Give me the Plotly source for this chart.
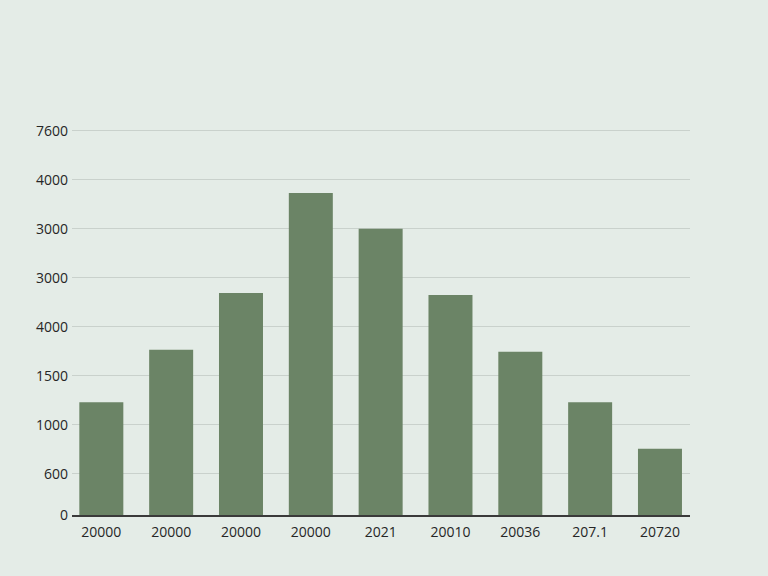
import plotly.graph_objects as go

# Category labels as shown (duplicates kept, so a numeric axis with ticktext is used)
x_labels = ["20000", "20000", "20000", "20000", "2021", "20010", "20036", "207.1", "20720"]
values = [2300, 3370, 4530, 6570, 5840, 4490, 3330, 2300, 1350]

# Y tick labels as printed in the picture (gridlines evenly spaced)
y_tick_text = ["0", "600", "1000", "1500", "4000", "3000", "3000", "4000", "7600"]
y_tick_vals = [0, 840, 1840, 2840, 3840, 4840, 5840, 6840, 7840]

x_idx = list(range(len(x_labels)))

fig = go.Figure(
    go.Bar(
        x=x_idx,
        y=values,
        width=0.63,
        marker=dict(color="#6b8466", line=dict(width=0)),
    )
)

fig.update_layout(
    width=768,
    height=576,
    margin=dict(l=72, r=78, t=123, b=61),
    paper_bgcolor="#e4ece7",
    plot_bgcolor="#e4ece7",
    font=dict(family="Open Sans, Noto Sans, sans-serif", size=14, color="#262626"),
    showlegend=False,
)

fig.update_xaxes(
    range=[-0.42, 8.43],
    tickmode="array",
    tickvals=x_idx,
    ticktext=x_labels,
    showgrid=False,
    zeroline=False,
    showline=True,
    linecolor="#3a3a3a",
    linewidth=1.5,
    ticks="",
    ticklabelstandoff=3,
    tickfont=dict(size=14, color="#262626"),
)

fig.update_yaxes(
    range=[0, 8000],
    tickmode="array",
    tickvals=y_tick_vals,
    ticktext=y_tick_text,
    showgrid=True,
    gridcolor="#c9d1cc",
    gridwidth=1,
    zeroline=False,
    showline=False,
    ticks="",
    ticklabelstandoff=3,
    tickfont=dict(size=14, color="#262626"),
)

fig.write_html("out.html")
